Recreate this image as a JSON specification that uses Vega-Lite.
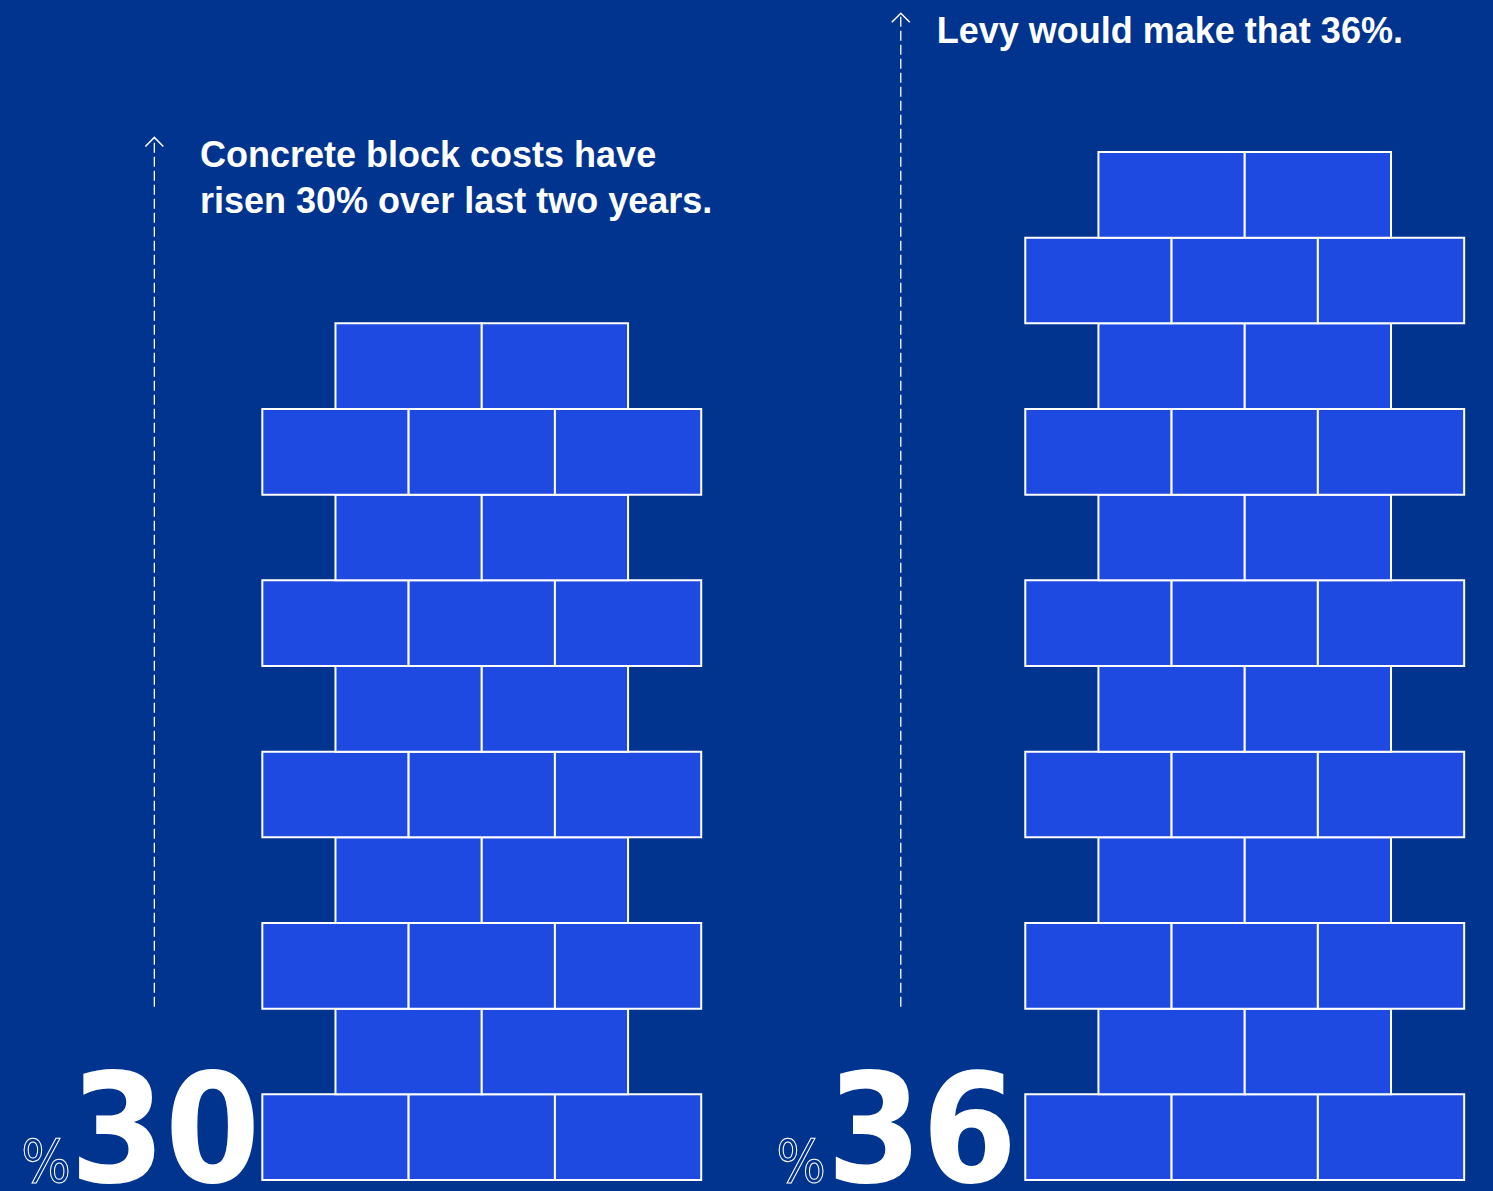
{
  "$schema": "https://vega.github.io/schema/vega-lite/v6.json",
  "width": 1493,
  "height": 1191,
  "padding": 0,
  "autosize": {"type": "none", "contains": "padding"},
  "background": "#00348f",
  "config": {"view": {"stroke": null}},
  "datasets": {
    "bricks": [
      {"wall": "30%", "course": 1, "left": 0, "right": 1, "bottom": 0, "top": 3},
      {"wall": "30%", "course": 1, "left": 1, "right": 2, "bottom": 0, "top": 3},
      {"wall": "30%", "course": 1, "left": 2, "right": 3, "bottom": 0, "top": 3},
      {"wall": "30%", "course": 2, "left": 0.5, "right": 1.5, "bottom": 3, "top": 6},
      {"wall": "30%", "course": 2, "left": 1.5, "right": 2.5, "bottom": 3, "top": 6},
      {"wall": "30%", "course": 3, "left": 0, "right": 1, "bottom": 6, "top": 9},
      {"wall": "30%", "course": 3, "left": 1, "right": 2, "bottom": 6, "top": 9},
      {"wall": "30%", "course": 3, "left": 2, "right": 3, "bottom": 6, "top": 9},
      {"wall": "30%", "course": 4, "left": 0.5, "right": 1.5, "bottom": 9, "top": 12},
      {"wall": "30%", "course": 4, "left": 1.5, "right": 2.5, "bottom": 9, "top": 12},
      {"wall": "30%", "course": 5, "left": 0, "right": 1, "bottom": 12, "top": 15},
      {"wall": "30%", "course": 5, "left": 1, "right": 2, "bottom": 12, "top": 15},
      {"wall": "30%", "course": 5, "left": 2, "right": 3, "bottom": 12, "top": 15},
      {"wall": "30%", "course": 6, "left": 0.5, "right": 1.5, "bottom": 15, "top": 18},
      {"wall": "30%", "course": 6, "left": 1.5, "right": 2.5, "bottom": 15, "top": 18},
      {"wall": "30%", "course": 7, "left": 0, "right": 1, "bottom": 18, "top": 21},
      {"wall": "30%", "course": 7, "left": 1, "right": 2, "bottom": 18, "top": 21},
      {"wall": "30%", "course": 7, "left": 2, "right": 3, "bottom": 18, "top": 21},
      {"wall": "30%", "course": 8, "left": 0.5, "right": 1.5, "bottom": 21, "top": 24},
      {"wall": "30%", "course": 8, "left": 1.5, "right": 2.5, "bottom": 21, "top": 24},
      {"wall": "30%", "course": 9, "left": 0, "right": 1, "bottom": 24, "top": 27},
      {"wall": "30%", "course": 9, "left": 1, "right": 2, "bottom": 24, "top": 27},
      {"wall": "30%", "course": 9, "left": 2, "right": 3, "bottom": 24, "top": 27},
      {"wall": "30%", "course": 10, "left": 0.5, "right": 1.5, "bottom": 27, "top": 30},
      {"wall": "30%", "course": 10, "left": 1.5, "right": 2.5, "bottom": 27, "top": 30},
      {"wall": "36%", "course": 1, "left": 5.215, "right": 6.215, "bottom": 0, "top": 3},
      {"wall": "36%", "course": 1, "left": 6.215, "right": 7.215, "bottom": 0, "top": 3},
      {"wall": "36%", "course": 1, "left": 7.215, "right": 8.215, "bottom": 0, "top": 3},
      {"wall": "36%", "course": 2, "left": 5.715, "right": 6.715, "bottom": 3, "top": 6},
      {"wall": "36%", "course": 2, "left": 6.715, "right": 7.715, "bottom": 3, "top": 6},
      {"wall": "36%", "course": 3, "left": 5.215, "right": 6.215, "bottom": 6, "top": 9},
      {"wall": "36%", "course": 3, "left": 6.215, "right": 7.215, "bottom": 6, "top": 9},
      {"wall": "36%", "course": 3, "left": 7.215, "right": 8.215, "bottom": 6, "top": 9},
      {"wall": "36%", "course": 4, "left": 5.715, "right": 6.715, "bottom": 9, "top": 12},
      {"wall": "36%", "course": 4, "left": 6.715, "right": 7.715, "bottom": 9, "top": 12},
      {"wall": "36%", "course": 5, "left": 5.215, "right": 6.215, "bottom": 12, "top": 15},
      {"wall": "36%", "course": 5, "left": 6.215, "right": 7.215, "bottom": 12, "top": 15},
      {"wall": "36%", "course": 5, "left": 7.215, "right": 8.215, "bottom": 12, "top": 15},
      {"wall": "36%", "course": 6, "left": 5.715, "right": 6.715, "bottom": 15, "top": 18},
      {"wall": "36%", "course": 6, "left": 6.715, "right": 7.715, "bottom": 15, "top": 18},
      {"wall": "36%", "course": 7, "left": 5.215, "right": 6.215, "bottom": 18, "top": 21},
      {"wall": "36%", "course": 7, "left": 6.215, "right": 7.215, "bottom": 18, "top": 21},
      {"wall": "36%", "course": 7, "left": 7.215, "right": 8.215, "bottom": 18, "top": 21},
      {"wall": "36%", "course": 8, "left": 5.715, "right": 6.715, "bottom": 21, "top": 24},
      {"wall": "36%", "course": 8, "left": 6.715, "right": 7.715, "bottom": 21, "top": 24},
      {"wall": "36%", "course": 9, "left": 5.215, "right": 6.215, "bottom": 24, "top": 27},
      {"wall": "36%", "course": 9, "left": 6.215, "right": 7.215, "bottom": 24, "top": 27},
      {"wall": "36%", "course": 9, "left": 7.215, "right": 8.215, "bottom": 24, "top": 27},
      {"wall": "36%", "course": 10, "left": 5.715, "right": 6.715, "bottom": 27, "top": 30},
      {"wall": "36%", "course": 10, "left": 6.715, "right": 7.715, "bottom": 27, "top": 30},
      {"wall": "36%", "course": 11, "left": 5.215, "right": 6.215, "bottom": 30, "top": 33},
      {"wall": "36%", "course": 11, "left": 6.215, "right": 7.215, "bottom": 30, "top": 33},
      {"wall": "36%", "course": 11, "left": 7.215, "right": 8.215, "bottom": 30, "top": 33},
      {"wall": "36%", "course": 12, "left": 5.715, "right": 6.715, "bottom": 33, "top": 36},
      {"wall": "36%", "course": 12, "left": 6.715, "right": 7.715, "bottom": 33, "top": 36}
    ],
    "arrows": [
      {"wall": "30%", "x": -0.738, "from": 6.07, "to": 36.51},
      {"wall": "36%", "x": 4.364, "from": 6.07, "to": 40.86}
    ],
    "captions": [
      {"x": -0.426, "y": 35.49, "text": "Concrete block costs have"},
      {"x": -0.426, "y": 33.85, "text": "risen 30% over last two years."},
      {"x": 4.61, "y": 39.81, "text": "Levy would make that 36%."}
    ],
    "numbers": [
      {"x": -0.665, "px": -1.478, "y": -0.07, "number": "30", "sign": "%"},
      {"x": 4.509, "px": 3.682, "y": -0.07, "number": "36", "sign": "%"}
    ]
  },
  "layer": [
    {
      "data": {"name": "bricks"},
      "mark": {"type": "rect", "fill": "#1f4ae2", "stroke": "#ffffff", "strokeWidth": 2},
      "encoding": {
        "x": {"field": "left", "type": "quantitative", "scale": {"domain": [-1.793, 8.412], "nice": false, "zero": false}, "axis": null},
        "x2": {"field": "right"},
        "y": {"field": "bottom", "type": "quantitative", "scale": {"domain": [-0.385, 41.322], "nice": false, "zero": false}, "axis": null},
        "y2": {"field": "top"}
      }
    },
    {
      "data": {"name": "arrows"},
      "mark": {"type": "rule", "color": "#ffffff", "strokeWidth": 1.3, "strokeDash": [10, 4]},
      "encoding": {
        "x": {"field": "x", "type": "quantitative", "scale": {"domain": [-1.793, 8.412], "nice": false, "zero": false}, "axis": null},
        "y": {"field": "from", "type": "quantitative", "scale": {"domain": [-0.385, 41.322], "nice": false, "zero": false}, "axis": null},
        "y2": {"field": "to"}
      }
    },
    {
      "data": {"name": "arrows"},
      "mark": {"type": "point", "shape": "M-1,1L0,0L1,1", "size": 324, "filled": false, "stroke": "#ffffff", "strokeWidth": 1.5, "opacity": 1},
      "encoding": {
        "x": {"field": "x", "type": "quantitative", "scale": {"domain": [-1.793, 8.412], "nice": false, "zero": false}, "axis": null},
        "y": {"field": "to", "type": "quantitative", "scale": {"domain": [-0.385, 41.322], "nice": false, "zero": false}, "axis": null}
      }
    },
    {
      "data": {"name": "captions"},
      "mark": {"type": "text", "align": "left", "baseline": "alphabetic", "font": "Liberation Sans", "fontWeight": "bold", "fontSize": 36, "color": "#ffffff"},
      "encoding": {
        "x": {"field": "x", "type": "quantitative", "scale": {"domain": [-1.793, 8.412], "nice": false, "zero": false}, "axis": null},
        "y": {"field": "y", "type": "quantitative", "scale": {"domain": [-0.385, 41.322], "nice": false, "zero": false}, "axis": null},
        "text": {"field": "text"}
      }
    },
    {
      "data": {"name": "numbers"},
      "mark": {"type": "text", "align": "center", "baseline": "alphabetic", "font": "DejaVu Sans Condensed", "fontWeight": "bold", "fontSize": 152, "color": "#ffffff"},
      "encoding": {
        "x": {"field": "x", "type": "quantitative", "scale": {"domain": [-1.793, 8.412], "nice": false, "zero": false}, "axis": null},
        "y": {"field": "y", "type": "quantitative", "scale": {"domain": [-0.385, 41.322], "nice": false, "zero": false}, "axis": null},
        "text": {"field": "number"}
      }
    },
    {
      "data": {"name": "numbers"},
      "mark": {"type": "text", "align": "center", "baseline": "alphabetic", "font": "DejaVu Sans Condensed", "fontWeight": "normal", "fontSize": 58, "fillOpacity": 0, "stroke": "#ffffff", "strokeWidth": 1},
      "encoding": {
        "x": {"field": "px", "type": "quantitative", "scale": {"domain": [-1.793, 8.412], "nice": false, "zero": false}, "axis": null},
        "y": {"field": "y", "type": "quantitative", "scale": {"domain": [-0.385, 41.322], "nice": false, "zero": false}, "axis": null},
        "text": {"field": "sign"}
      }
    }
  ]
}
